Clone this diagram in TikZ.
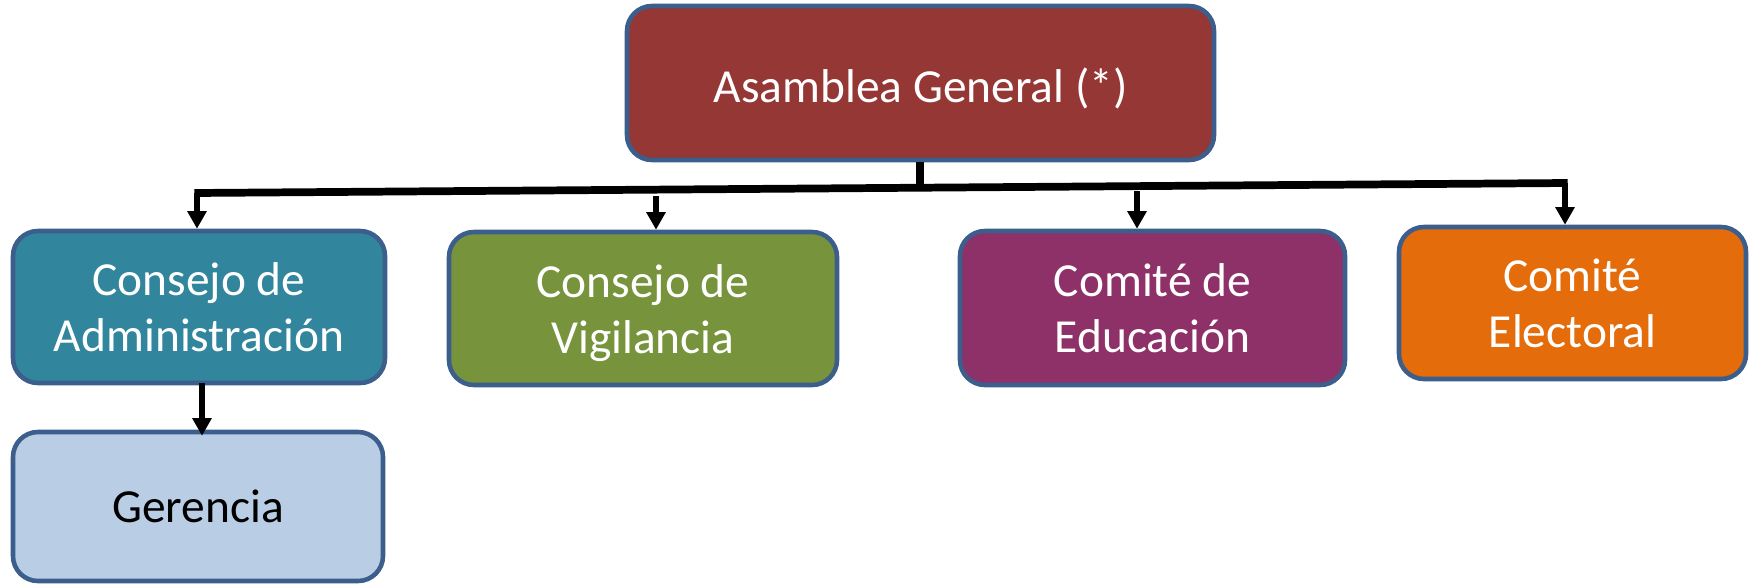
\documentclass[tikz,border=0pt]{standalone}
\usepackage{fontspec}
\setmainfont{Carlito}
\usetikzlibrary{arrows.meta}
\definecolor{cAsm}{HTML}{953735}
\definecolor{cAdm}{HTML}{31859C}
\definecolor{cVig}{HTML}{77933C}
\definecolor{cEdu}{HTML}{8E3169}
\definecolor{cEle}{HTML}{E46C0A}
\definecolor{cGer}{HTML}{B9CDE5}
\definecolor{cBor}{HTML}{3B5E8C}
\tikzset{
  orgbox/.style={draw=cBor, line width=2.6pt, rounded corners=0.5cm, inner sep=0pt,
    align=center, font=\fontsize{27}{32}\selectfont, text=white},
  mainline/.style={line width=4.4pt, black},
  arr/.style={line width=3.6pt, black, -{Triangle[length=10pt,width=10.5pt]}}
}
\begin{document}
\begin{tikzpicture}[x=0.02cm,y=-0.02cm]
\useasboundingbox (0,0) rectangle (1750,585);
\node[orgbox, fill=cAsm, minimum width=587*0.02cm, minimum height=154*0.02cm] (asm) at (920.5,83) {};
\node[font=\fontsize{27}{32}\selectfont, text=white] (asmt) at (920.5,88) {Asamblea General (*)};
\node[orgbox, fill=cAdm, minimum width=372*0.02cm, minimum height=152*0.02cm] (adm) at (199,307) {Consejo de\\Administración};
\node[orgbox, fill=cGer, text=black, minimum width=370*0.02cm, minimum height=149*0.02cm] (ger) at (198,506.5) {Gerencia};
\node[orgbox, fill=cVig, minimum width=388*0.02cm, minimum height=153*0.02cm] (vig) at (643,308.5) {};
\node[font=\fontsize{27}{32}\selectfont, text=white, align=center] (vigt) at (643,313) {Consejo de\\Vigilancia};
\node[orgbox, fill=cEdu, minimum width=385*0.02cm, minimum height=154*0.02cm] (edu) at (1152.5,308) {Comité de\\Educación};
\node[orgbox, fill=cEle, minimum width=347*0.02cm, minimum height=152*0.02cm] (ele) at (1572.5,303) {Comité\\Electoral};
\coordinate (L) at (197,193);
\coordinate (R) at (1565,183);
\coordinate (J) at (920,189);
\coordinate (V) at (656,196);
\coordinate (E) at (1137,191);
\coordinate (G) at (202,383);
\draw[mainline] (asm.south -| J) -- (J);
\draw[mainline] ([xshift=-1.5pt]L) -- ([xshift=1.5pt]R);
\draw[arr] (L) -- (L |- adm.north);
\draw[arr] (V) -- (V |- vig.north);
\draw[arr] (E) -- (E |- edu.north);
\draw[arr] (R) -- (R |- ele.north);
\draw[arr] (G) -- ([yshift=-6*0.02cm]G |- ger.north);
\end{tikzpicture}
\end{document}
